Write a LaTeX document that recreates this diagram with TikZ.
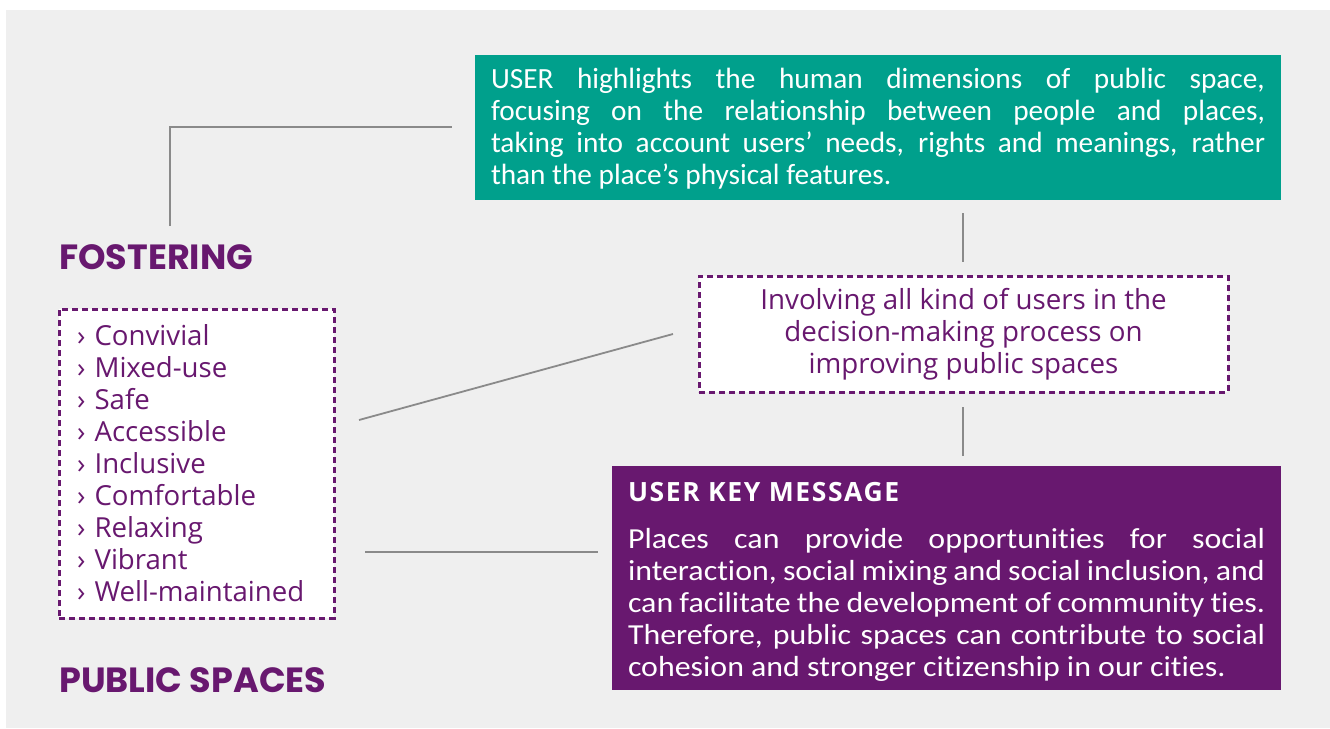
\documentclass[tikz,border=0pt]{standalone}
\usepackage{fontspec}
\setmainfont{Open Sans}
\newfontfamily\headfont{Poppins}
\newfontfamily\narrowfont{Carlito}[Ligatures=NoCommon]
\newfontfamily\widenarrowfont{Carlito}[Ligatures=NoCommon, FakeStretch=1.1]
\newfontfamily\keyfont{Open Sans}[LetterSpace=6]
\definecolor{bggray}{HTML}{EFEFEF}
\definecolor{teal}{HTML}{00A08C}
\definecolor{plum}{HTML}{68186F}
\definecolor{linegray}{HTML}{8A8A8A}
\tikzset{
  conn/.style={draw=linegray, line width=1.8pt},
  dashbox/.style={draw=plum, fill=white, line width=3pt, dash pattern=on 6pt off 4pt, inner sep=0pt},
  heading/.style={anchor=base west, text=plum, font=\headfont\bfseries\fontsize{35}{40}\selectfont, inner sep=0pt},
  plainbox/.style={inner sep=0pt, outer sep=0pt},
}
\begin{document}
\begin{tikzpicture}[x=1pt,y=-1pt]
\useasboundingbox (0,0) rectangle (1330,728);
\fill[white] (0,0) rectangle (1330,728);
\fill[bggray] (6,10) rectangle (1330,728);

% teal box
\node[plainbox, fill=teal, minimum width=806pt, minimum height=145pt] (user) at (878,127.5) {};
\node[plainbox, text=white, text width=774pt, align=justify,
      font=\narrowfont\fontsize{29.3}{32}\selectfont] (usertext) at (878,129)
  {USER highlights the human dimensions of public space,\linebreak
   focusing on the relationship between people and places,\linebreak
   taking into account users’ needs, rights and meanings, rather\linebreak
   than the place’s physical features.};

% headings
\node[heading] (fost) at (59,269) {FOSTERING};
\node[heading] (pubsp) at (59,692) {PUBLIC SPACES};

% list box
\node[dashbox, minimum width=275pt, minimum height=309pt,
      text=plum, text width=239pt, align=left,
      font=\fontsize{27.6}{32}\selectfont] (list) at (196.5,463.5)
  {› Convivial\\› Mixed-use\\› Safe\\› Accessible\\› Inclusive\\› Comfortable\\› Relaxing\\› Vibrant\\› Well-maintained};

% involving box
\node[dashbox, minimum width=529pt, minimum height=116pt,
      text=plum, align=center,
      font=\fontsize{27.7}{32}\selectfont] (inv) at (963.5,334)
  {Involving all kind of users in the\\decision-making process on\\improving public spaces};

% purple key message box
\node[plainbox, fill=plum, minimum width=669pt, minimum height=224pt] (key) at (946.5,578) {};
\node[plainbox, text=white, text width=637pt, align=justify,
      font=\widenarrowfont\fontsize{29}{32}\selectfont] (keytext) at (946.5,582)
  {{\keyfont\bfseries\fontsize{26.5}{32}\selectfont USER KEY MESSAGE}\par\vspace{15pt}
   Places can provide opportunities for social\linebreak
   interaction, social mixing and social inclusion, and\linebreak
   can facilitate the development of community ties.\linebreak
   Therefore, public spaces can contribute to social\linebreak
   cohesion and stronger citizenship in our cities.};

% connector endpoints
\coordinate (a1) at (170,226);
\coordinate (a2) at (452,127);
\coordinate (b1) at (963,213);
\coordinate (b2) at (963,262);
\coordinate (c1) at (963,407);
\coordinate (c2) at (963,456);
\coordinate (d1) at (359,420);
\coordinate (d2) at (673,334);
\coordinate (e1) at (365,552);
\coordinate (e2) at (598,552);

\draw[conn] (a1) |- (a2);
\draw[conn] (b1) -- (b2);
\draw[conn] (c1) -- (c2);
\draw[conn] (d1) -- (d2);
\draw[conn] (e1) -- (e2);
\end{tikzpicture}
\end{document}
